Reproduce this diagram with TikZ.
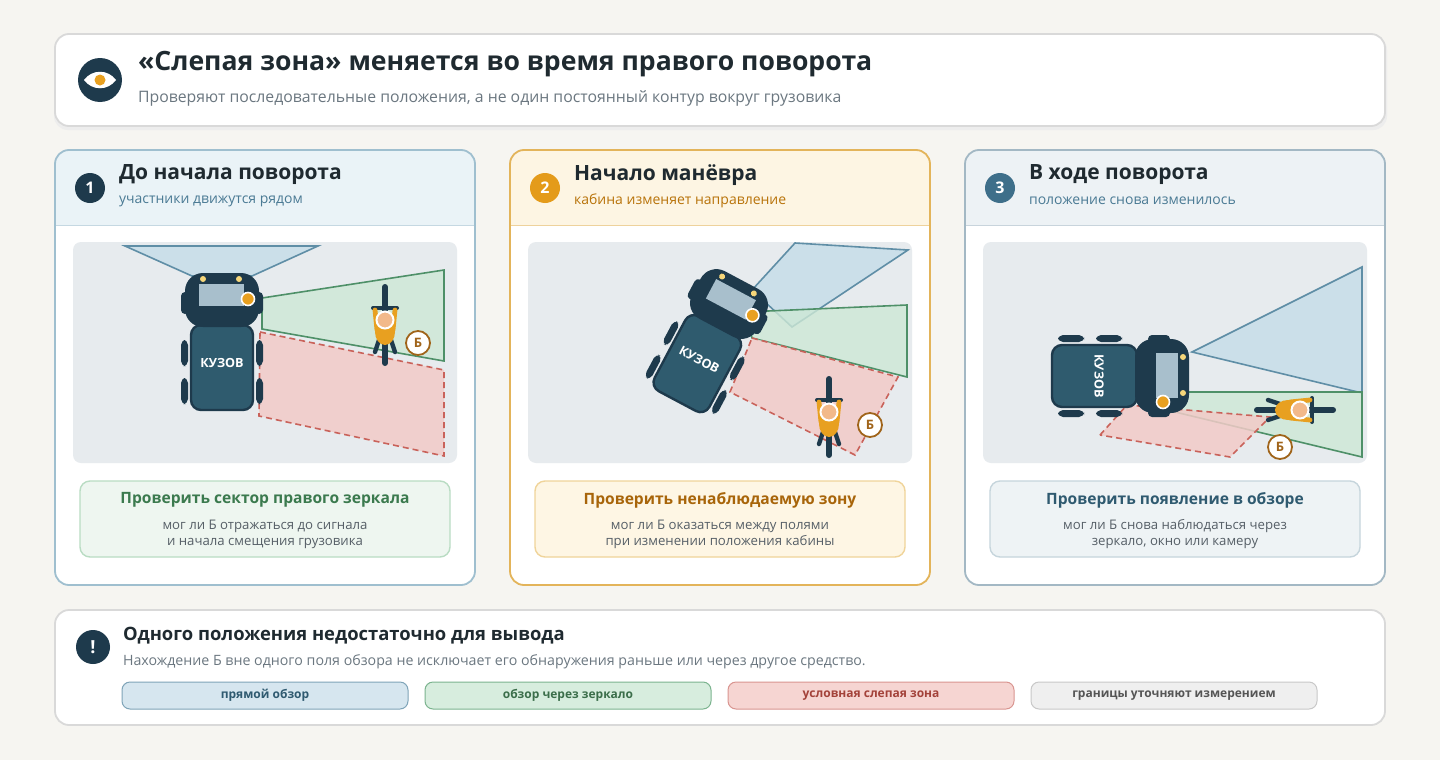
\documentclass[tikz,border=0pt]{standalone}
\usepackage{fontspec}
\setmainfont{Open Sans}
\usetikzlibrary{calc}
\definecolor{bg}{HTML}{F6F5F1}
\definecolor{dark}{HTML}{1E3A4C}
\definecolor{body}{HTML}{2F5B6E}
\definecolor{scene}{HTML}{E7EBEE}
\definecolor{bluef}{HTML}{C5DCE8}\definecolor{blued}{HTML}{5F8EA6}
\definecolor{greenf}{HTML}{CDE8D5}\definecolor{greend}{HTML}{4E9068}
\definecolor{redf}{HTML}{F2CBC8}\definecolor{redd}{HTML}{C9625A}
\definecolor{orng}{HTML}{E8A020}\definecolor{skin}{HTML}{F2B98A}
\definecolor{lamp}{HTML}{F5D67A}\definecolor{glass}{HTML}{A8BFCC}
\definecolor{txt}{HTML}{1F2A30}\definecolor{sub}{HTML}{6B7780}
\definecolor{brn}{HTML}{A0641A}
\tikzset{
 card/.style={fill=white,draw=#1,line width=0.9pt,rounded corners=7pt},
 blue zone/.style={fill=bluef,fill opacity=0.8,draw=blued,line width=0.8pt},
 green zone/.style={fill=greenf,fill opacity=0.8,draw=greend,line width=0.8pt},
 red zone/.style={fill=redf,fill opacity=0.85,draw=redd,line width=0.8pt,dash pattern=on 3pt off 2pt},
 pill/.style={rounded corners=4pt,line width=0.5pt,minimum width=143pt,minimum height=13.5pt,font=\fontsize{6}{7}\selectfont\bfseries},
 blabel/.style={circle,fill=white,draw=brn,line width=0.9pt,minimum size=12pt,inner sep=0pt,text=brn,font=\fontsize{6.5}{7}\selectfont\bfseries},
 num/.style={circle,minimum size=15pt,inner sep=0pt,text=white,font=\fontsize{8}{9}\selectfont\bfseries},
 ptitle/.style={anchor=west,text=txt,font=\fontsize{10.5}{12}\selectfont\bfseries},
 psub/.style={anchor=west,font=\fontsize{7}{8}\selectfont},
 btitle/.style={font=\fontsize{7.8}{9}\selectfont\bfseries},
 btext/.style={text=sub!80!black,font=\fontsize{6.6}{8}\selectfont,align=center},
}
\newcommand{\truck}{%
 \fill[dark,rounded corners=2pt] (-41,-8) rectangle (-33,14);
 \fill[dark,rounded corners=2pt] (33,-8) rectangle (41,14);
 \foreach \yy in {40,78}{\fill[dark,rounded corners=2.5pt] (-41,\yy) rectangle (-34,\yy+26);
   \fill[dark,rounded corners=2.5pt] (34,\yy) rectangle (41,\yy+26);}
 \draw[fill=body,draw=dark,line width=1.2pt,rounded corners=5pt] (-31,25) rectangle (31,110);
 \node[text=white,transform shape,inner sep=0pt,font=\fontsize{6.3}{7}\selectfont\bfseries] at (0,63) {КУЗОВ};
 \fill[dark,rounded corners=9pt] (-37,-27) rectangle (37,27);
 \fill[glass] (-23,-16) rectangle (22,6);
 \fill[lamp] (-19,-21) circle (3); \fill[lamp] (17,-21) circle (3);
 \draw[fill=orng,draw=white,line width=0.8pt] (26,-1) circle (6.5);
}
\newcommand{\cyclist}{%
 \draw[dark,line width=3pt,line cap=round] (0,-33) -- (0,43);
 \draw[dark,line width=2pt,line cap=round] (-12,-12) -- (12,-12);
 \draw[dark,line width=2.2pt,line cap=round] (-6,20) -- (-10,32) (6,20) -- (10,32);
 \draw[orng,line width=2.4pt,line cap=round] (-10,-10) -- (-8,10) (10,-10) -- (8,10);
 \fill[orng] (0,12) ellipse (10 and 13);
 \draw[fill=skin,draw=white,line width=1pt] (0,0) circle (8.5);
}
\begin{document}
\begin{tikzpicture}[x=0.5pt,y=-0.5pt]
\useasboundingbox (0,0) rectangle (1440,760);
\fill[bg] (0,0) rectangle (1440,760);
\fill[black!7,rounded corners=7pt] (54,36) rectangle (1387,130);
\node[card=black!15,minimum width=665pt,minimum height=46pt] (hdr) at (720,80) {};
\fill[dark] (100,80) circle (22);
\fill[white] (84,80) .. controls (92,69) and (108,69) .. (116,80) .. controls (108,91) and (92,91) .. (84,80) -- cycle;
\fill[orng] (100,80) circle (5.5);
\node[anchor=west,text=txt,font=\fontsize{13.3}{15}\selectfont\bfseries] (ttl) at (131,64) {«Слепая зона» меняется во время правого поворота};
\node[anchor=west,text=sub,font=\fontsize{7.9}{9}\selectfont] (sttl) at (131,98) {Проверяют последовательные положения, а не один постоянный контур вокруг грузовика};
\foreach \px/\hf/\bd/\nf/\st/\sf/\sd/\ti [count=\i] in
 {55/EAF3F7/9FBFCF/1E3A4C/4A7A94/EEF6F0/B9DCC3/3B7A4E,
  510/FDF5E3/E3B45A/E49B1A/B8730A/FEF6E4/F0D49A/A8650A,
  965/EDF2F5/A3B8C4/3E6F8A/4A7A94/EEF3F5/C6D5DC/2F5A70}{
 \definecolor{hf}{HTML}{\hf}\definecolor{bd}{HTML}{\bd}\definecolor{nf}{HTML}{\nf}
 \definecolor{st}{HTML}{\st}\definecolor{sf}{HTML}{\sf}\definecolor{sd}{HTML}{\sd}\definecolor{ti}{HTML}{\ti}
 \begin{scope}
  \clip[rounded corners=7pt] (\px,150) rectangle (\px+420,585);
  \fill[white] (\px,150) rectangle (\px+420,585);
  \fill[hf] (\px,150) rectangle (\px+420,225);
  \draw[bd!60,line width=0.5pt] (\px,225) -- (\px+420,225);
 \end{scope}
 \draw[bd,line width=0.9pt,rounded corners=7pt] (\px,150) rectangle (\px+420,585);
 \fill[scene,rounded corners=4pt] (\px+18,242) rectangle (\px+402,463);
 \draw[fill=sf,draw=sd,line width=0.7pt,rounded corners=5pt] (\px+25,481) rectangle (\px+395,557);
}
\node[num,fill=dark] (n1) at (90,188) {1};
\node[ptitle] (t1) at (112,175) {До начала поворота};
\node[psub,text={rgb,255:red,74;green,122;blue,148}] (s1) at (112,201) {участники движутся рядом};
\node[num,fill={rgb,255:red,228;green,155;blue,26}] (n2) at (545,188) {2};
\node[ptitle] (t2) at (567,175) {Начало манёвра};
\node[psub,text={rgb,255:red,184;green,115;blue,10}] (s2) at (567,201) {кабина изменяет направление};
\node[num,fill={rgb,255:red,62;green,111;blue,138}] (n3) at (1000,188) {3};
\node[ptitle] (t3) at (1022,175) {В ходе поворота};
\node[psub,text={rgb,255:red,74;green,122;blue,148}] (s3) at (1022,201) {положение снова изменилось};
\node[btitle,text={rgb,255:red,59;green,122;blue,78}] (b1) at (265,500) {Проверить сектор правого зеркала};
\node[btext] (c1) at (265,534) {мог ли Б отражаться до сигнала\\и начала смещения грузовика};
\node[btitle,text={rgb,255:red,168;green,101;blue,10}] (b2) at (720,500) {Проверить ненаблюдаемую зону};
\node[btext] (c2) at (720,534) {мог ли Б оказаться между полями\\при изменении положения кабины};
\node[btitle,text={rgb,255:red,47;green,90;blue,112}] (b3) at (1175,500) {Проверить появление в обзоре};
\node[btext] (c3) at (1175,534) {мог ли Б снова наблюдаться через\\зеркало, окно или камеру};
\draw[blue zone] (125,246) -- (318,246) -- (252,276) -- (192,276) -- cycle;
\draw[green zone] (262,298) -- (444,270) -- (444,361) -- (262,329) -- cycle;
\draw[red zone] (260,332) -- (444,370) -- (444,456) -- (259,416) -- cycle;
\begin{scope}[shift={(222,300)}] \truck \end{scope}
\begin{scope}[shift={(385,320)}] \cyclist \end{scope}
\node[blabel] (bb1) at (418,343) {Б};
\draw[blue zone] (752,290) -- (795,243) -- (908,250) -- (792,327) -- cycle;
\draw[green zone] (745,312) -- (907,305) -- (907,377) -- (752,338) -- cycle;
\draw[red zone] (752,338) -- (898,377) -- (855,455) -- (730,392) -- cycle;
\begin{scope}[shift={(729,304)},rotate=-28] \truck \end{scope}
\begin{scope}[shift={(829,412)}] \cyclist \end{scope}
\node[blabel] (bb2) at (870,425) {Б};
\draw[blue zone] (1192,352) -- (1362,267) -- (1362,393) -- cycle;
\draw[green zone] (1175,392) -- (1362,392) -- (1362,457) -- (1175,412) -- cycle;
\draw[red zone] (1100,435) -- (1127,405) -- (1270,417) -- (1230,457) -- cycle;
\begin{scope}[shift={(1162,376)},rotate=-90] \truck \end{scope}
\begin{scope}[shift={(1300,410)},rotate=-90] \cyclist \end{scope}
\node[blabel] (bb3) at (1280,447) {Б};
\node[card=black!15,minimum width=665pt,minimum height=57.5pt] (ftr) at (720,667.5) {};
\node[circle,fill=dark,minimum size=17pt,inner sep=0pt,text=white,font=\fontsize{9}{10}\selectfont\bfseries] (ex) at (93,647) {!};
\node[anchor=west,text=txt,font=\fontsize{9.2}{11}\selectfont\bfseries] (ft) at (116,636) {Одного положения недостаточно для вывода};
\node[anchor=west,text=sub,font=\fontsize{7.1}{8}\selectfont] (fs) at (116,662) {Нахождение Б вне одного поля обзора не исключает его обнаружения раньше или через другое средство.};
\node[pill,fill={rgb,255:red,214;green,230;blue,239},draw={rgb,255:red,127;green,164;blue,184},text={rgb,255:red,47;green,90;blue,112}] (l1) at (265,695.5) {прямой обзор};
\node[pill,fill={rgb,255:red,215;green,237;blue,222},draw={rgb,255:red,124;green,180;blue,143},text={rgb,255:red,59;green,110;blue,74}] (l2) at (568,695.5) {обзор через зеркало};
\node[pill,fill={rgb,255:red,246;green,213;blue,210},draw={rgb,255:red,217;green,149;blue,144},text={rgb,255:red,163;green,66;blue,58}] (l3) at (871,695.5) {условная слепая зона};
\node[pill,fill={rgb,255:red,239;green,239;blue,239},draw={rgb,255:red,200;green,200;blue,200},text={rgb,255:red,85;green,85;blue,85}] (l4) at (1174,695.5) {границы уточняют измерением};
\end{tikzpicture}
\end{document}
